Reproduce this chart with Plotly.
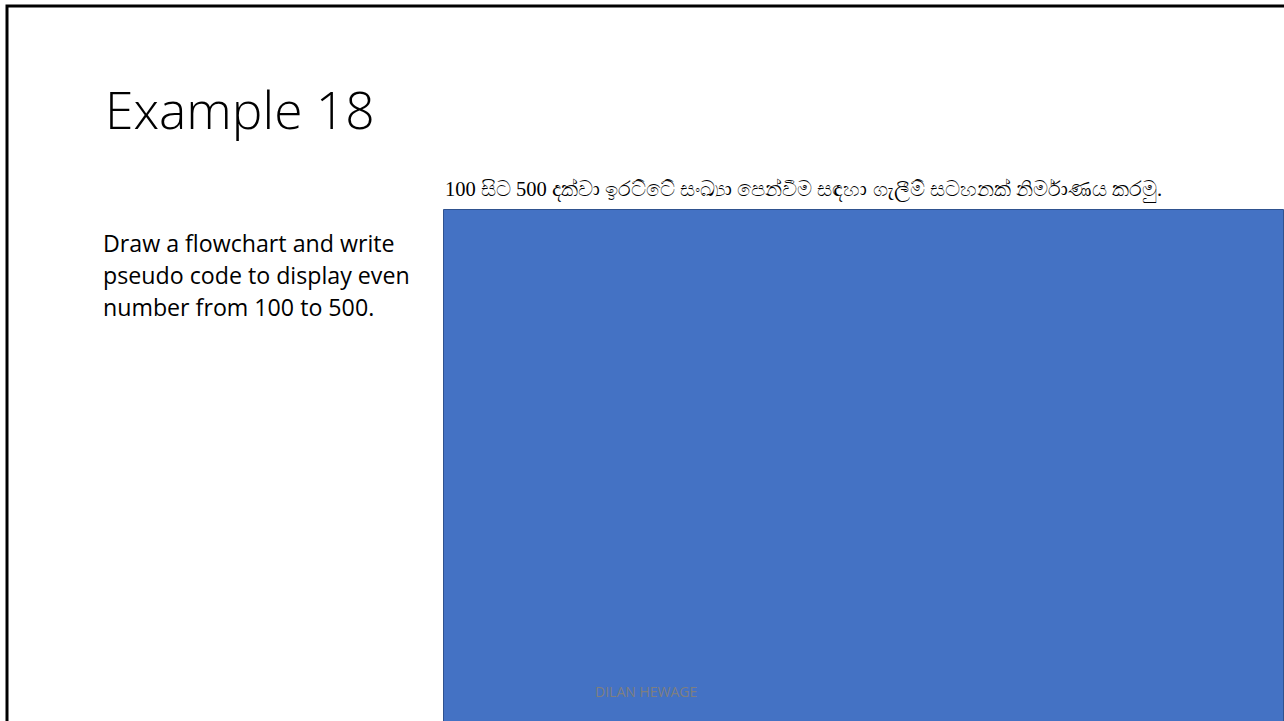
import plotly.graph_objects as go

W, H = 1284, 721

title_text = "Example 18"
body_lines = [
    "Draw a flowchart and write",
    "pseudo code to display even",
    "number from 100 to 500.",
]
body_centers = [243, 275, 307]
caption_text = "100 සිට 500 දක්වා ඉරට්ටේ සංඛ්‍යා පෙන්වීම සඳහා ගැලීම් සටහනක් නිර්මාණය කරමු."
footer_text = "DILAN HEWAGE"

fig = go.Figure()

# slide border
fig.add_shape(type="rect", x0=7, y0=6, x1=W + 20, y1=H + 20,
              line=dict(color="black", width=3), fillcolor="white", layer="below")
# blue image placeholder
fig.add_shape(type="rect", x0=443.5, y0=209.5, x1=1283.5, y1=H + 5,
              line=dict(color="#2F528F", width=1), fillcolor="#4472C4")

fig.add_annotation(x=103, y=109, text=title_text, showarrow=False,
                   xanchor="left", yanchor="middle",
                   font=dict(family="Open Sans", size=51.5, color="#000000", weight=300))

for line, yy in zip(body_lines, body_centers):
    fig.add_annotation(x=101, y=yy, text=line, showarrow=False,
                       xanchor="left", yanchor="middle",
                       font=dict(family="Open Sans", size=23.2, color="#000000"))

fig.add_annotation(x=443, y=190, text=caption_text, showarrow=False,
                   xanchor="left", yanchor="middle",
                   font=dict(family="Liberation Serif", size=20.5, color="#000000"))

fig.add_annotation(x=593, y=691, text=footer_text, showarrow=False,
                   xanchor="left", yanchor="middle",
                   font=dict(family="Open Sans", size=14, color="#7F7F7F"))

fig.update_layout(
    width=W, height=H,
    margin=dict(l=0, r=0, t=0, b=0),
    paper_bgcolor="white", plot_bgcolor="white",
    xaxis=dict(range=[0, W], visible=False, fixedrange=True),
    yaxis=dict(range=[H, 0], visible=False, fixedrange=True),
    showlegend=False,
)

fig.write_html("out.html", config={"displayModeBar": False},
               post_script="document.body.style.margin='0';document.body.style.overflow='hidden';")
